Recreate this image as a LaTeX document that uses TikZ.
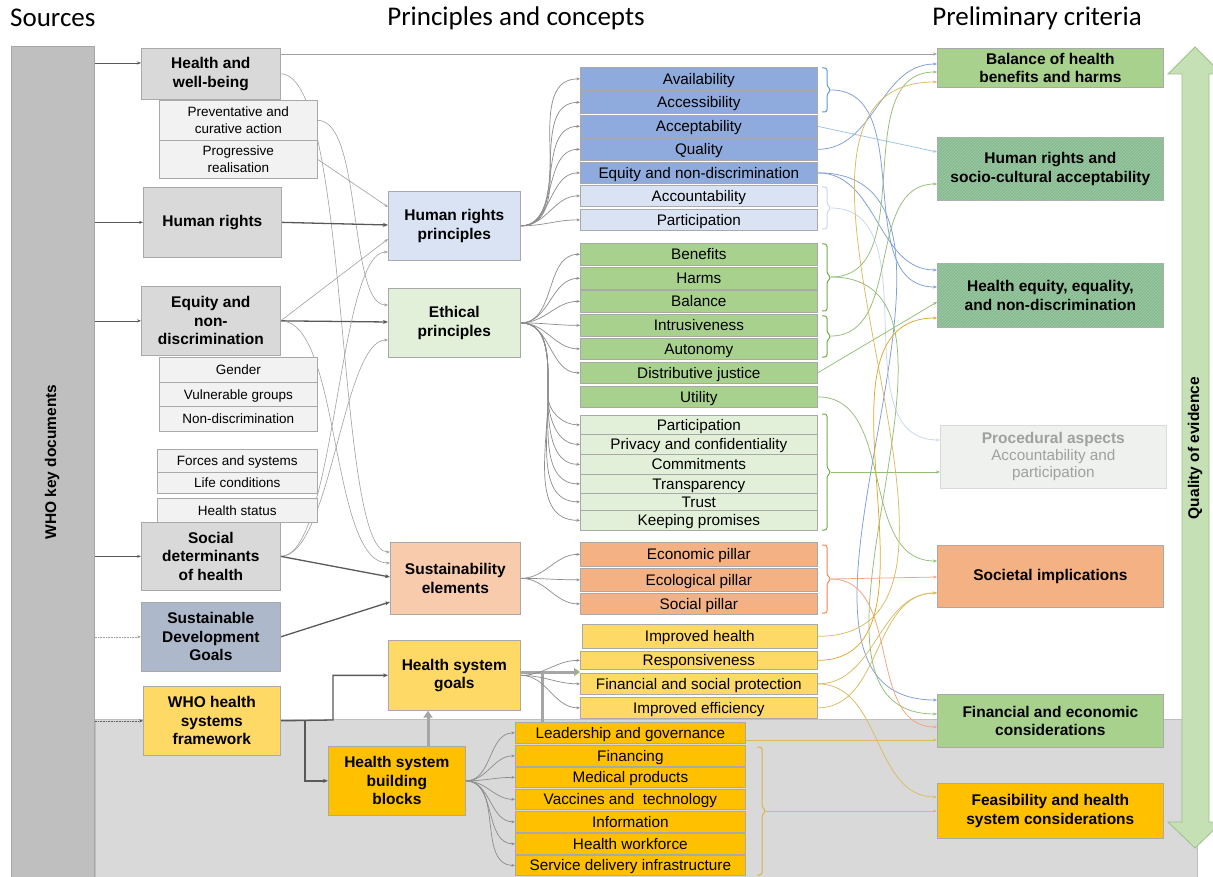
\documentclass[tikz,border=0pt]{standalone}
\usepackage{fontspec}
\setmainfont{Liberation Sans}
\newfontfamily\titlefont{Carlito}
\usetikzlibrary{arrows.meta,patterns}
\definecolor{barc}{HTML}{BFBFBF}
\definecolor{barb}{HTML}{A6A6A6}
\definecolor{gS}{HTML}{D9D9D9}
\definecolor{gL}{HTML}{F2F2F2}
\definecolor{bordc}{HTML}{A9A9A9}
\definecolor{bD}{HTML}{8FAADC}
\definecolor{bL}{HTML}{DAE3F3}
\definecolor{gD}{HTML}{A9D18E}
\definecolor{gLL}{HTML}{E2F0D9}
\definecolor{oD}{HTML}{F4B183}
\definecolor{oL}{HTML}{F8CBAD}
\definecolor{yD}{HTML}{FFD966}
\definecolor{yO}{HTML}{FFC000}
\definecolor{sdgc}{HTML}{ADB9CA}
\definecolor{hatchc}{HTML}{86BA92}
\definecolor{hatchl}{HTML}{A2CDA4}
\definecolor{procF}{HTML}{EEF1EE}
\definecolor{procT}{HTML}{A0A0A0}
\definecolor{qf}{HTML}{C5E0B4}
\definecolor{qb}{HTML}{9DBF8A}
\definecolor{cgray}{HTML}{A0A0A0}
\definecolor{dgray}{HTML}{595959}
\definecolor{fgray}{HTML}{8C8C8C}
\definecolor{tgray}{HTML}{A6A6A6}
\definecolor{blueL}{HTML}{7F9ED6}
\definecolor{accL}{HTML}{9DC3E6}
\definecolor{abL}{HTML}{C8D6EE}
\definecolor{grnL}{HTML}{93BE78}
\definecolor{orL}{HTML}{F4A37A}
\definecolor{yelL}{HTML}{D9BC62}
\definecolor{yelD}{HTML}{E0A82A}
\definecolor{brB}{HTML}{5B9BD5}
\definecolor{brG}{HTML}{70AD47}
\definecolor{brO}{HTML}{F08A4B}
\definecolor{brY}{HTML}{D9B44A}
\newcommand\fitem{\fontsize{15.3}{17}\selectfont}
\newcommand\fsm{\fontsize{13.5}{16.5}\selectfont}
\newcommand\fbd{\fontsize{15.5}{18.5}\selectfont\bfseries}
\newcommand\bx[7]{\node[#1, anchor=north west, minimum width={(#5-#3)*1pt}, minimum height={(#6-#4)*1pt}] (#2) at (#3,#4) {#7};}
\newcommand\brk[4]{\draw[draw=#1, line width=1pt, rounded corners=2.5pt] (#2,#3) -- ({#2+5},#3) -- ({#2+5},{(#3+#4)/2-4}) -- ({#2+9},{(#3+#4)/2}) -- ({#2+5},{(#3+#4)/2+4}) -- ({#2+5},#4) -- (#2,#4);}
\pgfdeclarelayer{back}
\pgfdeclarelayer{lines}
\pgfsetlayers{back,lines,main}
\begin{document}
\begin{tikzpicture}[x=1pt,y=-1pt,
  box/.style={draw=bordc, line width=0.7pt, inner sep=0pt, align=center},
  it/.style={box, font=\fitem, text height=12.5pt, text depth=1.5pt},
  sm/.style={box, font=\fsm, fill=gL, text height=11pt, text depth=1.3pt},
  bb/.style={box, font=\fbd},
  conn/.style={draw=cgray, line width=0.6pt, -{Stealth[length=4pt,width=3pt]}},
  thk/.style={draw=dgray, line width=1.3pt, -{Stealth[length=5pt,width=4pt]}},
  fan/.style={draw=fgray, line width=0.7pt, -{Stealth[length=3.5pt,width=2.8pt]}},
  rc/.style={draw=#1, line width=0.75pt, -{Stealth[length=4pt,width=3pt]}},
  hat/.style={fill=hatchc, postaction={pattern=north east lines, pattern color=hatchl}},
  ttl/.style={font=\titlefont\fontsize{27}{30}\selectfont, inner sep=0pt}
]
\useasboundingbox (0,0) rectangle (1213,877);
\begin{pgfonlayer}{back}
\fill[white] (0,0) rectangle (1213,877);
\draw[fill=gS, draw=barc, line width=0.8pt] (95,719) rectangle (1197,880);
\end{pgfonlayer}

% titles
\node[ttl, anchor=west] (t1) at (10,18) {Sources};
\node[ttl] (t2) at (516,18) {Principles and concepts};
\node[ttl] (t3) at (1037,18) {Preliminary criteria};

% left bar
\bx{box, fill=barc, draw=barb}{bar}{11}{46}{94}{880}{}
\node[rotate=90, font=\fbd] (barlab) at (52,462) {WHO key documents};

% quality of evidence arrow
\draw[fill=qf, draw=qb, line width=0.8pt] (1195,47) -- (1222,74) -- (1209,74) -- (1209,822) -- (1222,822) -- (1195,848) -- (1168,822) -- (1182,822) -- (1182,74) -- (1168,74) -- cycle;
\node[rotate=90, font=\fbd] (qlab) at (1195,448) {Quality of evidence};

% sources
\bx{bb, fill=gS}{hwb}{141}{48}{280}{99}{Health and\\well-being}
\bx{box, font=\fsm, fill=gL}{prev}{159}{100}{317}{140}{Preventative and\\curative action}
\bx{box, font=\fsm, fill=gL}{prog}{159}{140}{317}{178}{Progressive\\realisation}
\bx{bb, fill=gS}{hr}{143}{187}{281}{257}{Human rights}
\bx{bb, fill=gS}{eq}{141}{286}{280}{355}{Equity and\\non-\\discrimination}
\bx{sm}{gender}{159}{357}{317}{382}{Gender}
\bx{sm}{vuln}{159}{382}{317}{406}{Vulnerable groups}
\bx{sm}{nond}{159}{406}{317}{431}{Non-discrimination}
\bx{sm}{forces}{157}{449}{317}{472}{Forces and systems}
\bx{sm}{life}{157}{472}{317}{493}{Life conditions}
\bx{sm}{hstat}{157}{498}{317}{522}{Health status}
\bx{bb, fill=gS}{sd}{141}{522}{280}{590}{Social\\determinants\\of health}
\bx{bb, fill=sdgc}{sdg}{141}{602}{280}{671}{Sustainable\\Development\\Goals}
\bx{bb, fill=yD}{hsf}{143}{686}{280}{755}{WHO health\\systems\\framework}
\bx{bb, fill=yO}{hsbb}{328}{746}{465}{815}{Health system\\building\\blocks}

% middle
\bx{bb, fill=bL}{hrp}{388}{191}{520}{260}{Human rights\\principles}
\bx{bb, fill=gLL}{ep}{388}{288}{520}{357}{Ethical\\principles}
\bx{bb, fill=oL}{se}{390}{542}{520}{614}{Sustainability\\elements}
\bx{bb, fill=yD}{hsg}{388}{640}{520}{710}{Health system\\goals}

% items
\bx{it, fill=bD}{avail}{580}{67}{817}{90}{Availability}
\bx{it, fill=bD}{access}{580}{91}{817}{113}{Accessibility}
\bx{it, fill=bD}{accept}{580}{115}{817}{137}{Acceptability}
\bx{it, fill=bD}{quality}{580}{138}{817}{160}{Quality}
\bx{it, fill=bD}{eqnd}{580}{162}{817}{183}{Equity and non-discrimination}
\bx{it, fill=bL}{account}{580}{185}{817}{206}{Accountability}
\bx{it, fill=bL}{partic}{580}{209}{817}{230}{Participation}
\bx{it, fill=gD}{benefits}{580}{243}{817}{265}{Benefits}
\bx{it, fill=gD}{harms}{580}{267}{817}{289}{Harms}
\bx{it, fill=gD}{balance}{580}{290}{817}{312}{Balance}
\bx{it, fill=gD}{intrus}{580}{314}{817}{336}{Intrusiveness}
\bx{it, fill=gD}{autonomy}{580}{338}{817}{359}{Autonomy}
\bx{it, fill=gD}{distrib}{580}{362}{817}{383}{Distributive justice}
\bx{it, fill=gD}{utility}{580}{386}{817}{407}{Utility}
\bx{it, fill=gLL}{partii}{580}{415}{817}{434}{Participation}
\bx{it, fill=gLL}{privacy}{580}{434}{817}{454}{Privacy and confidentiality}
\bx{it, fill=gLL}{commit}{580}{454}{817}{474}{Commitments}
\bx{it, fill=gLL}{transp}{580}{474}{817}{493}{Transparency}
\bx{it, fill=gLL}{trust}{580}{493}{817}{510}{Trust}
\bx{it, fill=gLL}{keeping}{580}{510}{817}{530}{Keeping promises}
\bx{it, fill=oD}{econ}{580}{542}{817}{566}{Economic pillar}
\bx{it, fill=oD}{ecol}{580}{568}{817}{591}{Ecological pillar}
\bx{it, fill=oD}{social}{580}{593}{817}{614}{Social pillar}
\bx{it, fill=yD}{imph}{582}{624}{817}{648}{Improved health}
\bx{it, fill=yD}{resp}{580}{651}{817}{669}{Responsiveness}
\bx{it, fill=yD}{finsp}{580}{673}{817}{694}{Financial and social protection}
\bx{it, fill=yD}{impeff}{580}{697}{817}{718}{Improved efficiency}
\bx{it, fill=yO}{lead}{515}{722}{745}{743}{Leadership and governance}
\bx{it, fill=yO}{fin}{515}{745}{745}{766}{Financing}
\bx{it, fill=yO}{med}{515}{767}{745}{787}{Medical products}
\bx{it, fill=yO}{vacc}{515}{789}{745}{809}{Vaccines and\ \ technology}
\bx{it, fill=yO}{info}{515}{811}{745}{832}{Information}
\bx{it, fill=yO}{work}{515}{833}{745}{854}{Health workforce}
\bx{it, fill=yO}{serv}{515}{855}{745}{875}{Service delivery infrastructure}

% criteria
\bx{bb, fill=gD}{bal}{937}{48}{1163}{87}{Balance of health\\benefits and harms}
\bx{bb, hat}{hrsc}{937}{137}{1163}{200}{Human rights and\\socio-cultural acceptability}
\bx{bb, hat}{heq}{937}{263}{1163}{327}{Health equity, equality,\\and non-discrimination}
\bx{box, fill=procF, draw=gS, font=\fitem, text=procT}{proc}{940}{425}{1166}{488}{{\fbd Procedural aspects}\\Accountability and\\participation}
\bx{bb, fill=oD}{soc}{937}{545}{1163}{607}{Societal implications}
\bx{bb, fill=gD}{cfin}{937}{694}{1163}{747}{Financial and economic\\considerations}
\bx{bb, fill=yO}{feas}{937}{783}{1163}{838}{Feasibility and health\\system considerations}

% brackets
\brk{brB}{822}{68}{112}
\brk{abL}{822}{187}{229}
\brk{brG}{822}{244}{311}
\brk{brG}{822}{316}{357}
\brk{brG}{822}{414}{530}
\brk{brO}{822}{545}{613}
\brk{brY}{757}{747}{875}
\coordinate (bA) at (831,90);
\coordinate (bB) at (831,208);
\coordinate (bC) at (831,277);
\coordinate (bD) at (831,336);
\coordinate (bE) at (831,472);
\coordinate (bF) at (831,579);
\coordinate (bG) at (766,811);

\begin{pgfonlayer}{lines}
% bar to sources
\draw[conn, draw=dgray] (bar.east |- 0,63) -- (hwb.west |- 0,63);
\draw[conn, draw=dgray] (bar.east |- hr.west) -- (hr.west);
\draw[conn, draw=dgray] (bar.east |- eq.west) -- (eq.west);
\draw[conn, draw=dgray] (bar.east |- sd.west) -- (sd.west);
\draw[conn, densely dotted] (bar.east |- sdg.west) -- (sdg.west);
\draw[conn, densely dotted, draw=dgray] (bar.east |- hsf.west) -- (hsf.west);
% top line
\draw[conn] (hwb.east |- 0,54) -- (bal.west |- 0,54);
% sources to middle
\draw[conn] (hwb.east) .. controls +(70,0) and +(-55,0) .. (se.west |- 0,552);
\draw[conn] (prev.east) .. controls +(45,0) and +(-40,0) .. (ep.west |- 0,305);
\draw[conn] (prog.east) -- (hrp.west |- 0,207);
\draw[thk] (hr.east) -- (hrp.west |- 0,225);
\draw[conn] (eq.east) -- (hrp.west |- 0,239);
\draw[thk] (eq.east) -- (ep.west |- 0,322);
\draw[conn] (eq.east) .. controls +(60,0) and +(-60,0) .. (se.west |- 0,563);
\draw[conn] (sd.east) .. controls +(55,0) and +(-50,0) .. (hrp.west |- 0,252);
\draw[conn] (sd.east) .. controls +(50,0) and +(-45,0) .. (ep.west |- 0,340);
\draw[thk] (sd.east) -- (se.west |- 0,577);
\draw[thk] (sdg.east) -- (se.west |- 0,602);
\draw[thk] (hsf.east) -- (333,720) |- (hsg.west);
\draw[thk] (305,720) |- (hsbb.west);
\draw[draw=tgray, line width=3pt, -{Triangle[length=7pt,width=9pt]}] (hsbb.north -| 428,0) -- (hsg.south -| 428,0);
\draw[draw=tgray, line width=3pt] (hsg.east |- 0,672) -- (542,672);
\draw[draw=tgray, line width=3pt, -{Triangle[length=6pt,width=8pt]}] (lead.north -| 542,0) |- (finsp.west |- 0,672);
% fans
\foreach \n in {avail,access,accept,quality,eqnd,account,partic}
  \draw[fan] (hrp.east) to[out=0,in=180] (\n.west);
\foreach \n in {benefits,harms,balance,intrus,autonomy,distrib}
  \draw[fan] (ep.east) to[out=0,in=180] (\n.west);
\foreach \n in {partii,privacy,commit,transp,trust,keeping}
  \draw[fan] (ep.east) to[out=0,in=90] (548,395) to[out=-90,in=180] (\n.west);
\foreach \n in {econ,ecol,social}
  \draw[fan] (se.east) to[out=0,in=180] (\n.west);
\foreach \n in {resp,finsp,impeff}
  \draw[fan] (hsg.east) to[out=0,in=180] (\n.west);
\foreach \n in {lead,fin,med,vacc,info,work,serv}
  \draw[fan] (hsbb.east) to[out=0,in=180] (\n.west);
% right connectors
\draw[rc=blueL] (bA) to[out=0,in=180] (heq.west |- 0,287);
\draw[rc=accL] (accept.east) -- (hrsc.west |- 0,152);
\draw[rc=blueL] (quality.east) to[out=0,in=180] (bal.west |- 0,64);
\draw[rc=blueL] (eqnd.east) to[out=0,in=180] (heq.west |- 0,270);
\draw[rc=blueL] (eqnd.east) to[out=0,in=180] (cfin.west |- 0,700);
\draw[rc=abL] (bB) to[out=0,in=180] (proc.west |- 0,440);
\draw[rc=grnL] (bC) to[out=0,in=180] (bal.west |- 0,72);
\draw[rc=grnL] (bC) to[out=0,in=180] (cfin.west |- 0,714);
\draw[rc=grnL] (bD) to[out=0,in=180] (hrsc.west |- 0,184);
\draw[rc=grnL] (distrib.east) -- (heq.west |- 0,302);
\draw[rc=grnL] (utility.east) to[out=0,in=180] (soc.west |- 0,561);
\draw[rc=grnL] (bE) -- (proc.west |- 0,472);
\draw[rc=orL] (bF) -- (soc.west |- 0,577);
\draw[rc=orL] (bF) to[out=0,in=180] (cfin.west |- 0,727);
\draw[rc=yelL] (imph.east) to[out=0,in=180] (bal.west |- 0,82);
\draw[rc=yelD] (resp.east) to[out=0,in=180] (heq.west |- 0,318);
\draw[rc=yelL] (finsp.east) to[out=0,in=180] (soc.west |- 0,593);
\draw[rc=yelL] (impeff.east) to[out=0,in=180] (soc.west |- 0,593);
\draw[rc=yelL] (finsp.east) to[out=0,in=180] (feas.west |- 0,797);
\draw[rc=yelL] (lead.east |- 0,740) -- (cfin.west |- 0,740);
\draw[rc=yelL] (bG) -- (feas.west |- 0,811);
\end{pgfonlayer}
\end{tikzpicture}
\end{document}
